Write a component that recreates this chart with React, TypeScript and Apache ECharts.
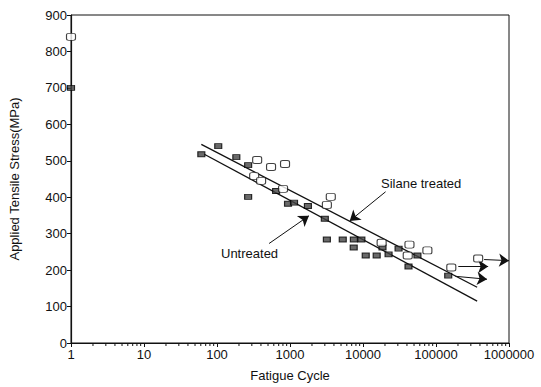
import React, { useEffect, useRef } from "react";
import * as echarts from "echarts";

// ---- data ----
const untreatedCycles = [1, 61, 104, 184, 267, 645, 267, 940, 1135, 1760, 3000, 3200, 5280, 7500, 9500, 7460, 10900, 15400, 18500, 22400, 30700, 55700, 42000, 147000];
const untreatedStress = [700, 518, 540, 510, 488, 417, 401, 382, 385, 376, 341, 284, 284, 284, 284, 262, 240, 240, 262, 243, 259, 240, 210, 185];

const silaneCycles = [1, 323, 355, 402, 550, 803, 855, 3200, 3620, 18000, 41000, 43300, 76200, 162000, 378000];
const silaneStress = [840, 458, 502, 445, 483, 423, 491, 379, 401, 275, 240, 270, 254, 207, 232];

const silaneFitCycles = [61, 366000];
const silaneFitStress = [545, 153];
const untreatedFitCycles = [67, 366000];
const untreatedFitStress = [518, 115];

// annotation arrows [fromCycle, fromStress, toCycle, toStress]
const labelArrows = [
  [20400, 415, 6580, 335],
  [517, 273, 1816, 349],
];
const runoutArrows = [
  [202000, 210, 518000, 210],
  [184000, 183, 500000, 175],
  [456000, 229, 1000000, 226],
];

const yTicks = [0, 100, 200, 300, 400, 500, 600, 700, 800, 900];
const decades = [1, 10, 100, 1000, 10000, 100000];
const minorMultipliers = [2, 3, 4, 5, 6, 7, 8, 9];

const FONT = "Liberation Sans, Arial, Helvetica, sans-serif";

export default function App() {
  const ref = useRef<HTMLDivElement>(null);
  useEffect(() => {
    document.body.style.margin = "0";
    if (!ref.current) return;
    const chart = echarts.init(ref.current, undefined, { renderer: "svg" });
    const zip = (a: number[], b: number[]) => a.map((v, i) => [v, b[i]]);
    const minorTicks: number[][] = [];
    decades.forEach((d) => minorMultipliers.forEach((m) => minorTicks.push([d * m, 0])));

    const arrowLines = (arr: number[][]) =>
      arr.map((a) => [{ coord: [a[0], a[1]] }, { coord: [a[2], a[3]] }]);

    chart.setOption({
      animation: false,
      backgroundColor: "#fff",
      textStyle: { fontFamily: FONT },
      grid: {
        left: 69,
        right: 32,
        top: 15,
        bottom: 42,
        show: true,
        borderColor: "#111",
        borderWidth: 1,
        backgroundColor: "transparent",
      },
      xAxis: {
        type: "log",
        logBase: 10,
        min: 1,
        max: 1000000,
        name: "Fatigue Cycle",
        nameLocation: "middle",
        nameGap: 26,
        nameTextStyle: { fontSize: 13, color: "#111", fontFamily: FONT },
        axisLine: { lineStyle: { color: "#111", width: 1.2 } },
        axisTick: { show: true, length: 4, lineStyle: { color: "#111" } },
        axisLabel: {
          fontSize: 13,
          color: "#111",
          margin: 5,
          fontFamily: FONT,
          formatter: (v: number) => String(Math.round(v)),
        },
        splitLine: { show: false },
        minorTick: { show: false },
      },
      yAxis: {
        type: "value",
        min: 0,
        max: 900,
        interval: 100,
        name: "Applied Tensile Stress(MPa)",
        nameLocation: "middle",
        nameGap: 50,
        nameTextStyle: { fontSize: 13, color: "#111", fontFamily: FONT },
        axisLine: { show: true, lineStyle: { color: "#111", width: 1.2 } },
        axisTick: { show: true, length: 4, lineStyle: { color: "#111" } },
        axisLabel: {
          fontSize: 13,
          color: "#111",
          margin: 4,
          fontFamily: FONT,
          formatter: (v: number) => (yTicks.indexOf(v) >= 0 ? String(v) : ""),
        },
        splitLine: { show: false },
      },
      graphic: [
        {
          type: "text",
          left: 381,
          top: 177,
          style: { text: "Silane treated", font: `13px ${FONT}`, fill: "#111" },
        },
        {
          type: "text",
          left: 221,
          top: 247,
          style: { text: "Untreated", font: `13px ${FONT}`, fill: "#111" },
        },
      ],
      series: [
        {
          type: "custom",
          name: "minorTicks",
          data: minorTicks,
          encode: { x: 0, y: 1 },
          clip: false,
          silent: true,
          renderItem: (params: any, api: any) => {
            const p = api.coord([api.value(0), 0]);
            return {
              type: "line",
              shape: { x1: p[0], y1: p[1], x2: p[0], y2: p[1] + 3 },
              style: { stroke: "#111", lineWidth: 1 },
            };
          },
        },
        {
          type: "line",
          name: "Silane fit",
          data: zip(silaneFitCycles, silaneFitStress),
          symbol: "none",
          lineStyle: { color: "#111", width: 1.3 },
          markLine: {
            silent: true,
            symbol: ["none", "arrow"],
            symbolSize: 10,
            lineStyle: { color: "#111", width: 1, type: "solid" },
            label: { show: false },
            data: arrowLines(labelArrows),
          },
        },
        {
          type: "line",
          name: "Untreated fit",
          data: zip(untreatedFitCycles, untreatedFitStress),
          symbol: "none",
          lineStyle: { color: "#111", width: 1.3 },
          markLine: {
            silent: true,
            symbol: ["none", "arrow"],
            symbolSize: 10,
            lineStyle: { color: "#111", width: 1, type: "solid" },
            label: { show: false },
            data: arrowLines(runoutArrows),
          },
        },
        {
          type: "scatter",
          name: "Untreated",
          data: zip(untreatedCycles, untreatedStress),
          symbol: "rect",
          symbolSize: [7, 5],
          itemStyle: { color: "#444", borderColor: "#000", borderWidth: 1 },
          z: 5,
        },
        {
          type: "scatter",
          name: "Silane treated",
          data: zip(silaneCycles, silaneStress),
          symbol: "roundRect",
          symbolSize: [9, 7],
          itemStyle: { color: "#fff", borderColor: "#111", borderWidth: 1 },
          z: 6,
        },
      ],
    });
    return () => chart.dispose();
  }, []);
  return <div ref={ref} style={{ width: 541, height: 387 }} />;
}
